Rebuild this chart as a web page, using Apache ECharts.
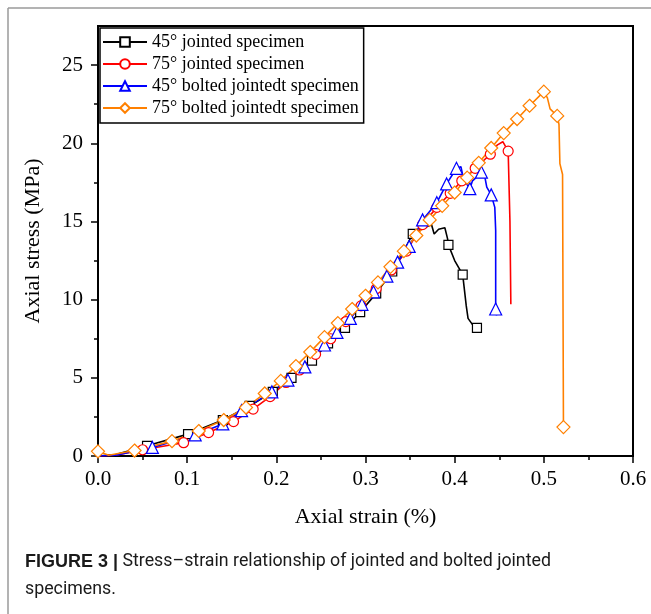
<!DOCTYPE html>
<html style="height:100%;width:100%;">
<head>
  <meta charset="utf-8">
  <title>Stress-strain</title>
  <script src="https://cdn.jsdelivr.net/npm/echarts@6/dist/echarts.min.js"></script>
</head>
<body style="margin:0px;height:100%;width:100%;background:#fff;">
  <div id="main" style="width:651px;height:614px;"></div>
  <script type="text/javascript">
    // legend names
    var names = ['45° jointed specimen', '75° jointed specimen', '45° bolted jointedt specimen', '75° bolted jointedt specimen'];

    // 45° jointed (black, squares) ; mark = 1 where a symbol is drawn
    var strainJ45 = [0, 0.02, 0.055, 0.101, 0.140, 0.170, 0.196, 0.217, 0.240, 0.258, 0.277, 0.294, 0.312, 0.330, 0.342, 0.353, 0.366, 0.374, 0.377, 0.382, 0.389, 0.392, 0.393, 0.400, 0.405, 0.409, 0.413, 0.415, 0.420, 0.425, 0.428];
    var stressJ45 = [0, 0.1, 0.65, 1.4, 2.3, 3.2, 4.1, 5.0, 6.1, 7.2, 8.2, 9.2, 10.4, 11.8, 13.0, 14.2, 14.6, 14.8, 14.2, 14.5, 14.6, 13.9, 13.5, 12.5, 12.0, 11.6, 9.6, 8.8, 8.4, 8.2, 7.9];
    var markJ45 = [0, 0, 1, 1, 1, 1, 1, 1, 1, 1, 1, 1, 1, 1, 0, 1, 0, 0, 0, 0, 0, 0, 1, 0, 0, 1, 0, 0, 0, 1, 0];

    // 75° jointed (red, circles)
    var strainJ75 = [0, 0.02, 0.050, 0.096, 0.124, 0.152, 0.174, 0.193, 0.211, 0.226, 0.244, 0.261, 0.278, 0.295, 0.312, 0.329, 0.346, 0.364, 0.380, 0.395, 0.408, 0.423, 0.440, 0.448, 0.454, 0.457, 0.460, 0.462, 0.463];
    var stressJ75 = [0, 0.05, 0.4, 0.85, 1.5, 2.2, 3.0, 3.8, 4.7, 5.5, 6.5, 7.5, 8.6, 9.6, 10.7, 11.9, 13.1, 14.8, 15.9, 16.8, 17.6, 18.4, 19.3, 19.9, 20.1, 19.8, 19.5, 15.0, 9.7];
    var markJ75 = [0, 0, 1, 1, 1, 1, 1, 1, 1, 1, 1, 1, 1, 1, 1, 1, 1, 1, 1, 1, 1, 1, 1, 0, 0, 0, 1, 0, 0];

    // 45° bolted (blue, triangles)
    var strainB45 = [0, 0.02, 0.061, 0.109, 0.140, 0.161, 0.195, 0.213, 0.232, 0.254, 0.268, 0.283, 0.296, 0.309, 0.324, 0.336, 0.349, 0.364, 0.380, 0.391, 0.402, 0.407, 0.410, 0.417, 0.420, 0.424, 0.430, 0.434, 0.436, 0.441, 0.445, 0.446, 0.446, 0.447];
    var stressB45 = [0, 0.05, 0.55, 1.35, 2.05, 2.9, 4.1, 4.85, 5.7, 7.1, 7.9, 8.8, 9.7, 10.5, 11.5, 12.4, 13.4, 15.1, 16.2, 17.4, 18.4, 18.5, 17.7, 17.1, 17.6, 17.8, 18.15, 17.8, 17.2, 16.7, 15.9, 14.4, 9.4, 9.0];
    var markB45 = [0, 0, 1, 1, 1, 1, 1, 1, 1, 1, 1, 1, 1, 1, 1, 1, 1, 1, 1, 1, 1, 0, 0, 1, 0, 0, 1, 0, 0, 1, 0, 0, 1, 0];

    // 75° bolted (orange, diamonds)
    var strainB75 = [0, 0.012, 0.041, 0.083, 0.113, 0.141, 0.166, 0.187, 0.205, 0.222, 0.238, 0.254, 0.269, 0.285, 0.300, 0.314, 0.328, 0.343, 0.357, 0.372, 0.386, 0.400, 0.414, 0.427, 0.441, 0.455, 0.470, 0.484, 0.500, 0.504, 0.507, 0.515, 0.517, 0.518, 0.521, 0.522];
    var stressB75 = [0.3, 0.05, 0.35, 0.95, 1.6, 2.3, 3.1, 4.0, 4.8, 5.75, 6.65, 7.6, 8.5, 9.4, 10.25, 11.1, 12.1, 13.1, 14.1, 15.1, 16.0, 16.85, 17.8, 18.75, 19.7, 20.65, 21.55, 22.4, 23.3, 22.9, 22.2, 21.75, 21.2, 18.7, 18.0, 1.85];
    var markB75 = [1, 0, 1, 1, 1, 1, 1, 1, 1, 1, 1, 1, 1, 1, 1, 1, 1, 1, 1, 1, 1, 1, 1, 1, 1, 1, 1, 1, 1, 0, 0, 1, 0, 0, 0, 1];

    // axis ticks
    var xMin = 0, xMax = 0.6, xStep = 0.1;
    var yMin = 0, yMax = 27.5;
    var yTicks = [0, 5, 10, 15, 20, 25];
    var yMinorTicks = [2.5, 7.5, 12.5, 17.5, 22.5];

    var serif = 'Liberation Serif';

    function build(xs, ys, marks) {
      return xs.map(function (x, i) {
        var item = { value: [x, ys[i]] };
        if (!marks[i]) item.symbol = 'none';
        return item;
      });
    }

    function makeSeries(name, color, symbol, size, data) {
      return {
        name: name,
        type: 'line',
        data: data,
        symbol: symbol,
        symbolSize: size,
        showAllSymbol: true,
        lineStyle: { color: color, width: 1.6 },
        itemStyle: { color: '#fff', borderColor: color, borderWidth: 1.2 },
        emphasis: { disabled: true },
        animation: false
      };
    }

    var myChart = echarts.init(document.getElementById('main'));

    var option = {
      backgroundColor: '#fff',
      animation: false,
      grid: {
        left: 98, right: 18, top: 26, bottom: 158,
        show: true, borderColor: '#000', borderWidth: 2, backgroundColor: 'transparent'
      },
      legend: {
        data: names,
        orient: 'vertical',
        left: 100, top: 28,
        itemWidth: 44, itemHeight: 12, itemGap: 4,
        padding: [5, 5, 6, 2],
        borderColor: '#000', borderWidth: 1.5,
        backgroundColor: '#fff',
        textStyle: { fontFamily: serif, fontSize: 18, color: '#000', lineHeight: 18 }
      },
      xAxis: {
        type: 'value', min: xMin, max: xMax, interval: xStep,
        axisLine: { onZero: false, lineStyle: { color: '#000', width: 2 } },
        axisTick: { inside: false, length: 7, lineStyle: { color: '#000', width: 1.5 } },
        minorTick: { show: true, splitNumber: 2, length: 4, lineStyle: { color: '#000', width: 1.5 } },
        splitLine: { show: false },
        axisLabel: {
          formatter: function (v) { return v.toFixed(1); },
          fontFamily: serif, fontSize: 21, color: '#000', margin: 13
        },
        name: 'Axial strain (%)', nameLocation: 'middle', nameGap: 50,
        nameTextStyle: { fontFamily: serif, fontSize: 22, color: '#000' }
      },
      yAxis: [{
        type: 'value', min: yMin, max: yMax, interval: 5,
        axisLine: { onZero: false, lineStyle: { color: '#000', width: 2 } },
        axisTick: { inside: false, length: 7, customValues: yTicks, lineStyle: { color: '#000', width: 1.5 } },
        splitLine: { show: false },
        axisLabel: { customValues: yTicks, fontFamily: serif, fontSize: 21, color: '#000', margin: 15 },
        name: 'Axial stress (MPa)', nameLocation: 'middle', nameGap: 54,
        nameTextStyle: { fontFamily: serif, fontSize: 22, color: '#000' }
      }, {
        type: 'value', min: yMin, max: yMax, position: 'left',
        axisLine: { show: false },
        axisTick: { inside: false, length: 4, customValues: yMinorTicks, lineStyle: { color: '#000', width: 1.5 } },
        axisLabel: { show: false },
        splitLine: { show: false }
      }],
      graphic: [
        { type: 'line', shape: { x1: 8, y1: 8, x2: 651, y2: 8 }, style: { stroke: '#9a9a9a', lineWidth: 1.5 } },
        { type: 'line', shape: { x1: 8, y1: 8, x2: 8, y2: 614 }, style: { stroke: '#9a9a9a', lineWidth: 1.5 } },
        {
          type: 'text', x: 25, y: 562,
          style: {
            text: '{b|FIGURE 3 |}{n| Stress–strain relationship of jointed and bolted jointed}',
            verticalAlign: 'middle',
            rich: {
              b: { fontFamily: 'Liberation Sans', fontWeight: 'bold', fontSize: 18, fill: '#1a1a1a' },
              n: { fontFamily: 'Roboto', fontSize: 17.8, fill: '#1a1a1a' }
            }
          }
        },
        {
          type: 'text', x: 25, y: 590,
          style: { text: 'specimens.', verticalAlign: 'middle', fontFamily: 'Roboto', fontSize: 17.8, fill: '#1a1a1a' }
        }
      ],
      series: [
        makeSeries(names[0], '#000', 'rect', 9, build(strainJ45, stressJ45, markJ45)),
        makeSeries(names[1], '#ff0000', 'circle', 10, build(strainJ75, stressJ75, markJ75)),
        makeSeries(names[2], '#0000ff', 'triangle', 12, build(strainB45, stressB45, markB45)),
        makeSeries(names[3], '#ff8000', 'diamond', 13, build(strainB75, stressB75, markB75))
      ]
    };

    myChart.setOption(option);
  </script>
</body>
</html>
